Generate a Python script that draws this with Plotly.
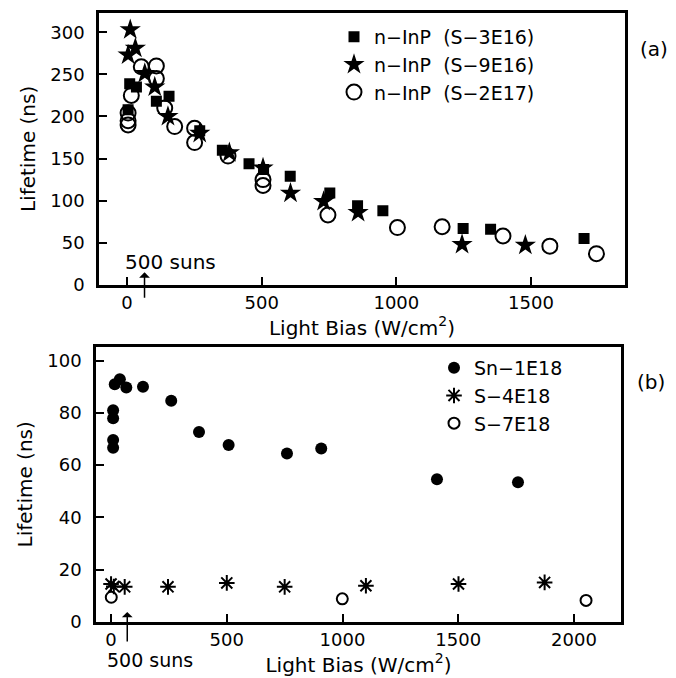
import plotly.graph_objects as go

# ---------------- Panel (a) data ----------------
a_s3e16_x = [4, 10, 35, 109, 156, 270, 354, 453, 507, 606, 753, 856, 950, 1248, 1350, 1697]
a_s3e16_y = [208, 239, 235, 218, 224, 183, 160, 144, 137, 129, 109, 94, 88, 67, 66, 55]

a_s9e16_x = [12, 4, 31, 66, 103, 152, 270, 380, 505, 607, 730, 858, 1244, 1479]
a_s9e16_y = [303, 273, 281, 251, 235, 200, 180, 157, 139, 109, 99, 86, 48, 47]

a_s2e17_x = [4, 4, 4, 16, 53, 109, 109, 140, 177, 251, 251, 375, 505, 505, 746, 1004, 1170, 1396, 1570, 1743]
a_s2e17_y = [190, 195, 204, 225, 259, 260, 245, 210, 188, 186, 169, 153, 125, 118, 83, 68, 69, 58, 46, 37]

# ---------------- Panel (b) data ----------------
b_sn1e18_x = [9, 9, 9, 9, 16, 38, 66, 138, 260, 380, 508, 760, 908, 1408, 1758]
b_sn1e18_y = [81, 78, 69.6, 66.7, 91, 92.9, 89.8, 90, 84.7, 72.7, 67.7, 64.5, 66.4, 54.6, 53.5]

b_s4e18_x = [0, 12, 59, 246, 500, 750, 1101, 1501, 1873]
b_s4e18_y = [14.5, 13.5, 13.4, 13.4, 14.9, 13.4, 13.8, 14.5, 15.1]

b_s7e18_x = [1, 999, 2052]
b_s7e18_y = [9.4, 8.8, 8.2]

a_xticks = [0, 500, 1000, 1500]
a_yticks = [0, 50, 100, 150, 200, 250, 300]
b_xticks = [0, 500, 1000, 1500, 2000]
b_yticks = [0, 20, 40, 60, 80, 100]

names_a = ["n\u2212InP\u00a0\u00a0(S\u22123E16)", "n\u2212InP\u00a0\u00a0(S\u22129E16)", "n\u2212InP\u00a0\u00a0(S\u22122E17)"]
names_b = ["Sn\u22121E18", "S\u22124E18", "S\u22127E18"]

FONT = "DejaVu Sans"
W, H = 676, 678

fig = go.Figure()

fig.add_trace(go.Scatter(x=a_s3e16_x, y=a_s3e16_y, mode="markers", name=names_a[0],
                         marker=dict(symbol="square", size=11, color="black"),
                         xaxis="x", yaxis="y", legend="legend"))
fig.add_trace(go.Scatter(x=a_s9e16_x, y=a_s9e16_y, mode="markers", name=names_a[1],
                         marker=dict(symbol="star", size=16, color="black"),
                         xaxis="x", yaxis="y", legend="legend"))
fig.add_trace(go.Scatter(x=a_s2e17_x, y=a_s2e17_y, mode="markers", name=names_a[2],
                         marker=dict(symbol="circle-open", size=15, color="black", line=dict(width=2)),
                         xaxis="x", yaxis="y", legend="legend"))

fig.add_trace(go.Scatter(x=b_sn1e18_x, y=b_sn1e18_y, mode="markers", name=names_b[0],
                         marker=dict(symbol="circle", size=12, color="black"),
                         xaxis="x2", yaxis="y2", legend="legend2"))
fig.add_trace(go.Scatter(x=b_s4e18_x, y=b_s4e18_y, mode="markers", name=names_b[1],
                         marker=dict(symbol="asterisk-open", size=13, color="black", line=dict(width=2, color="black")),
                         xaxis="x2", yaxis="y2", legend="legend2"))
fig.add_trace(go.Scatter(x=b_s7e18_x, y=b_s7e18_y, mode="markers", name=names_b[2],
                         marker=dict(symbol="circle-open", size=11, color="black", line=dict(width=2)),
                         xaxis="x2", yaxis="y2", legend="legend2"))

def px_x(p):
    return p / W

def px_y(p):
    return 1 - p / H

axis_common = dict(showline=True, linecolor="black", linewidth=2.5, mirror=True,
                   ticks="inside", ticklen=8, tickwidth=2, tickcolor="black",
                   showgrid=False, zeroline=False,
                   tickfont=dict(family=FONT, size=18, color="black"))

fig.update_layout(
    width=W, height=H,
    margin=dict(l=0, r=0, t=0, b=0),
    paper_bgcolor="white", plot_bgcolor="white",
    font=dict(family=FONT, color="black"),
    xaxis=dict(domain=[px_x(91), px_x(617)], range=[-104, 1849], anchor="y",
               tickvals=a_xticks,
               title=dict(text="Light Bias (W/cm<sup>2</sup>)", font=dict(family=FONT, size=20), standoff=2),
               **axis_common),
    yaxis=dict(domain=[px_y(281), px_y(5)], range=[0, 323], anchor="x",
               tickvals=a_yticks, ticklabelstandoff=8,
               title=dict(text="Lifetime (ns)", font=dict(family=FONT, size=20), standoff=10),
               **axis_common),
    xaxis2=dict(domain=[px_x(88), px_x(613)], range=[-65, 2203], anchor="y2",
                tickvals=b_xticks,
                title=dict(text="Light Bias (W/cm<sup>2</sup>)", font=dict(family=FONT, size=20), standoff=2),
                **axis_common),
    yaxis2=dict(domain=[px_y(623), px_y(344)], range=[0, 105.3], anchor="x2",
                tickvals=b_yticks, ticklabelstandoff=8,
                title=dict(text="Lifetime (ns)", font=dict(family=FONT, size=20), standoff=10),
                **axis_common),
    legend=dict(x=px_x(326), y=px_y(10), xanchor="left", yanchor="top",
                bgcolor="rgba(0,0,0,0)", font=dict(family=FONT, size=19),
                itemwidth=30, tracegroupgap=0),
    legend2=dict(x=px_x(426), y=px_y(346), xanchor="left", yanchor="top",
                 bgcolor="rgba(0,0,0,0)", font=dict(family=FONT, size=19),
                 itemwidth=30, tracegroupgap=0),
    showlegend=True,
)

annots = [
    dict(x=px_x(646), y=px_y(42), xref="paper", yref="paper", text="(a)", showarrow=False,
         xanchor="center", yanchor="middle", font=dict(family=FONT, size=20)),
    dict(x=px_x(643), y=px_y(380), xref="paper", yref="paper", text="(b)", showarrow=False,
         xanchor="center", yanchor="middle", font=dict(family=FONT, size=20)),
    dict(x=160, y=27, xref="x", yref="y", text="500 suns", showarrow=False,
         xanchor="center", yanchor="middle", font=dict(family=FONT, size=20)),
    dict(x=65, y=15, xref="x", yref="y", text="", showarrow=True, ax=0, ay=27,
         arrowhead=1, arrowsize=1.2, arrowwidth=1.5, arrowcolor="black"),
    dict(x=px_x(142), y=px_y(662), xref="paper", yref="paper", text="500 suns", showarrow=False,
         xanchor="center", yanchor="middle", font=dict(family=FONT, size=19)),
    dict(x=70, y=3.8, xref="x2", yref="y2", text="", showarrow=True, ax=0, ay=31,
         arrowhead=1, arrowsize=1.2, arrowwidth=1.5, arrowcolor="black"),
]
fig.update_layout(annotations=annots)

fig.write_html("out.html")
